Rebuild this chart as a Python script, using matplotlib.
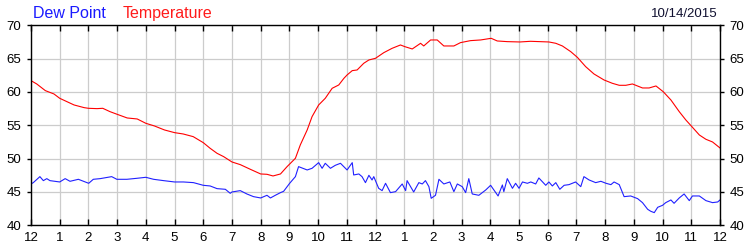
import matplotlib
matplotlib.use('Agg')
import matplotlib.pyplot as plt

plt.rcParams['font.family'] = ['Liberation Sans', 'DejaVu Sans']

# hours since midnight, temperature (F)
temp_h = [0.0, 0.2, 0.5, 0.8, 1.0, 1.25, 1.5, 1.85, 2.0, 2.3, 2.5, 2.75, 3.0, 3.35, 3.7,
          4.0, 4.3, 4.65, 5.0, 5.3, 5.65, 6.0, 6.24, 6.48, 6.71, 7.0, 7.29, 7.64, 8.0,
          8.22, 8.43, 8.69, 8.92, 9.21, 9.38, 9.62, 9.79, 10.02, 10.25, 10.49, 10.72,
          10.9, 11.01, 11.19, 11.36, 11.59, 11.77, 12.0, 12.29, 12.58, 12.87, 13.02,
          13.28, 13.57, 13.68, 13.92, 14.15, 14.38, 14.73, 14.96, 15.31, 15.66, 16.03,
          16.24, 16.59, 17.03, 17.4, 18.04, 18.28, 18.51, 18.8, 19.03, 19.32, 19.61,
          19.96, 20.25, 20.49, 20.72, 20.95, 21.3, 21.53, 21.77, 22.02, 22.29, 22.58,
          22.81, 23.02, 23.28, 23.51, 23.74, 24.0]
temp = [61.7, 61.2, 60.2, 59.7, 59.05, 58.55, 58.05, 57.65, 57.55, 57.5, 57.55, 57.05,
        56.65, 56.1, 55.95, 55.3, 54.9, 54.3, 53.9, 53.7, 53.3, 52.4, 51.55, 50.8, 50.3,
        49.5, 49.1, 48.4, 47.7, 47.65, 47.4, 47.7, 48.8, 50.05, 52.05, 54.3, 56.3, 58.05,
        59.05, 60.55, 61.05, 62.05, 62.55, 63.2, 63.3, 64.3, 64.8, 65.05, 65.9, 66.55,
        67.05, 66.8, 66.45, 67.3, 66.9, 67.8, 67.8, 66.9, 66.9, 67.4, 67.7, 67.8, 68.05,
        67.65, 67.55, 67.5, 67.6, 67.5, 67.3, 66.9, 66.05, 65.2, 63.8, 62.7, 61.8, 61.3,
        61.0, 61.0, 61.2, 60.6, 60.6, 60.9, 60.05, 58.8, 57.05, 55.8, 54.8, 53.55, 52.9,
        52.5, 51.6]

# hours since midnight, dew point (F)
dew_h = [0.0, 0.08, 0.31, 0.43, 0.55, 0.66, 1.0, 1.19, 1.36, 1.65, 2.01, 2.17, 2.41,
         2.81, 2.99, 3.34, 3.69, 4.0, 4.27, 4.62, 5.0, 5.31, 5.66, 6.0, 6.24, 6.48, 6.77,
         6.94, 7.0, 7.29, 7.52, 7.75, 8.0, 8.22, 8.34, 8.51, 8.69, 8.8, 9.01, 9.21, 9.32,
         9.62, 9.79, 10.02, 10.14, 10.25, 10.43, 10.6, 10.78, 11.01, 11.19, 11.24, 11.42,
         11.53, 11.65, 11.77, 11.88, 11.94, 12.11, 12.23, 12.35, 12.52, 12.7, 12.93,
         13.05, 13.1, 13.33, 13.51, 13.63, 13.74, 13.86, 13.94, 14.09, 14.21, 14.38,
         14.59, 14.73, 14.85, 15.02, 15.14, 15.25, 15.37, 15.6, 15.84, 16.01, 16.27,
         16.42, 16.47, 16.59, 16.77, 16.88, 17.0, 17.12, 17.29, 17.41, 17.58, 17.69,
         17.93, 18.04, 18.16, 18.28, 18.42, 18.57, 18.74, 18.97, 19.15, 19.26, 19.44,
         19.67, 19.85, 20.03, 20.2, 20.31, 20.49, 20.66, 20.89, 21.13, 21.3, 21.48,
         21.59, 21.71, 21.83, 22.0, 22.11, 22.29, 22.4, 22.58, 22.75, 22.93, 23.04,
         23.28, 23.51, 23.74, 23.92, 24.0]
dew = [46.2, 46.4, 47.3, 46.7, 47.0, 46.7, 46.5, 47.0, 46.6, 46.9, 46.3, 46.9, 47.0,
       47.3, 46.9, 46.9, 47.05, 47.2, 46.9, 46.7, 46.5, 46.5, 46.4, 46.0, 45.9, 45.5,
       45.4, 44.8, 45.0, 45.2, 44.7, 44.3, 44.1, 44.5, 44.1, 44.5, 44.9, 45.1, 46.3,
       47.3, 48.8, 48.3, 48.55, 49.4, 48.55, 49.3, 48.55, 49.0, 49.3, 48.3, 49.4, 47.55,
       47.7, 47.3, 46.4, 47.5, 46.8, 47.3, 45.55, 45.2, 46.3, 44.9, 45.05, 46.2, 45.2,
       46.7, 45.0, 46.4, 46.2, 46.7, 45.8, 44.05, 44.5, 46.9, 46.2, 46.5, 45.05, 46.2,
       45.8, 44.9, 47.0, 44.7, 44.5, 45.3, 46.0, 44.4, 46.05, 45.05, 47.0, 45.55, 46.3,
       45.55, 46.5, 46.3, 46.5, 46.2, 47.1, 46.0, 46.5, 45.9, 46.4, 45.4, 46.0, 46.1,
       46.5, 45.8, 47.3, 46.8, 46.4, 46.6, 46.3, 46.1, 46.5, 46.1, 44.3, 44.4, 44.0,
       43.4, 42.4, 42.1, 41.9, 42.7, 43.0, 43.4, 43.8, 43.3, 44.1, 44.7, 43.7, 44.4,
       44.4, 43.7, 43.4, 43.5, 43.8]

hour_labels = ['12', '1', '2', '3', '4', '5', '6', '7', '8', '9', '10', '11',
               '12', '1', '2', '3', '4', '5', '6', '7', '8', '9', '10', '11', '12']
date_text = '10/14/2015'

fig = plt.figure(figsize=(7.5, 2.5), dpi=100)
ax = fig.add_axes([31 / 750, 1 - 225.3 / 250, 689 / 750, 200 / 250])

ax.plot(temp_h, temp, color='#ff0000', lw=0.8)
ax.plot(dew_h, dew, color='#2020ff', lw=0.8)

ax.set_xlim(0, 24)
ax.set_ylim(40, 70)
ax.set_xticks(range(25))
ax.set_xticklabels(hour_labels)
ax.set_yticks(range(40, 71, 5))
ax.grid(True, color='#cccccc', lw=0.9)
ax.set_axisbelow(True)

ax.tick_params(axis='x', direction='in', length=4, top=True, bottom=True,
               labelsize=9.5, pad=5, width=1)
ax.tick_params(axis='y', direction='out', length=3, left=True, right=True,
               labelleft=True, labelright=True, labelsize=9.5, pad=4, width=1)
for s in ax.spines.values():
    s.set_linewidth(1.0)
    s.set_color('black')

fig.text(33 / 750, 1 - 17.7 / 250, 'Dew Point', color='#1a1aff', fontsize=11.5)
fig.text(123 / 750, 1 - 17.7 / 250, 'Temperature', color='#ff1a1a', fontsize=11.5)
fig.text(718 / 750, 1 - 16.7 / 250, date_text, color='#101030', fontsize=9.5, ha='right')

fig.savefig('out.png', dpi=100, facecolor='white')
